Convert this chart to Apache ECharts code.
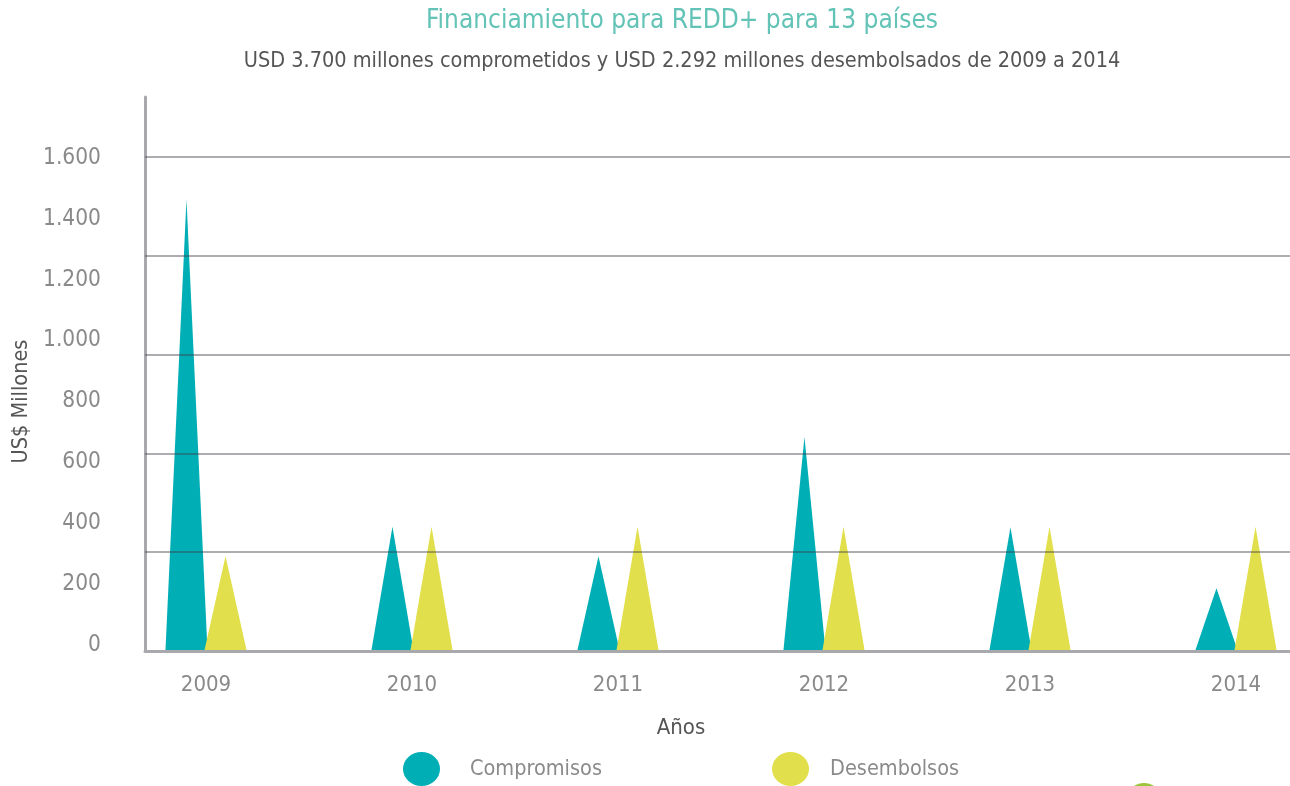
<!DOCTYPE html>
<html><head><meta charset="utf-8">
<script src="https://cdn.jsdelivr.net/npm/echarts@6/dist/echarts.min.js"></script>
<style>html,body{margin:0;padding:0;background:#fff}#c{width:1290px;height:786px}</style>
</head><body><div id="c"></div>
<script>
const years = ['2009', '2010', '2011', '2012', '2013', '2014'];
const compromisos = [1480, 405, 308, 700, 403, 203];
const desembolsos = [308, 405, 405, 405, 405, 405];
const yLabelMin = 0, yLabelMax = 1600, yLabelStep = 200;
const titleText = 'Financiamiento para REDD+ para 13 países';
const subtitleText = 'USD 3.700 millones comprometidos y USD 2.292 millones desembolsados de 2009 a 2014';

const FONT = "'DejaVu Sans Condensed','Liberation Sans Narrow',sans-serif";
const TEAL = '#00aeb6', YELLOW = '#e2df4c';
const AXIS = '#a9a9ad';
const ELLIPSE = 'path://M0,17 A18.5,17 0 1,0 37,17 A18.5,17 0 1,0 0,17 Z';

const chart = echarts.init(document.getElementById('c'), null, {renderer: 'canvas'});
const fmt = v => String(v).replace(/\B(?=(\d{3})+(?!\d))/g, '.');
const hidden = {show: false};
const GRIDC = 'rgba(60,60,70,0.42)';
const G = {outerBoundsMode: 'none', containLabel: false};

chart.setOption({
  animation: false,
  backgroundColor: '#fff',
  textStyle: {fontFamily: FONT},
  grid: [
    Object.assign({left: 103, width: 1236, top: 97, bottom: 136}, G),
    Object.assign({left: 145, right: 0, top: 97, bottom: 135}, G),
    Object.assign({left: 145, right: 0, top: 157, bottom: 135}, G),
    Object.assign({left: 145, right: 0, top: 158, bottom: 141}, G)
  ],
  xAxis: [
    {gridIndex: 0, type: 'category', data: years, axisLine: hidden, axisTick: hidden,
     splitLine: hidden,
     axisLabel: {margin: 24, fontSize: 22, color: '#8a8a8a', fontFamily: FONT}},
    {gridIndex: 1, type: 'value', min: 0, max: 1, axisLabel: hidden, axisTick: hidden, splitLine: hidden,
     axisLine: {show: true, lineStyle: {color: AXIS, width: 3}}},
    {gridIndex: 2, type: 'value', show: false},
    {gridIndex: 3, type: 'value', show: false}
  ],
  yAxis: [
    {gridIndex: 0, type: 'value', min: 0, max: 1817, show: false},
    {gridIndex: 1, type: 'value', min: 0, max: 1, axisLabel: hidden, axisTick: hidden, splitLine: hidden,
     axisLine: {show: true, lineStyle: {color: AXIS, width: 3}}},
    {gridIndex: 2, type: 'value', min: 0, max: 5, interval: 1, z: 10, axisLine: hidden, axisTick: hidden,
     axisLabel: hidden,
     splitLine: {show: true, lineStyle: {color: ['rgba(0,0,0,0)', GRIDC, GRIDC, GRIDC, GRIDC, GRIDC], width: 2}}},
    {gridIndex: 3, type: 'value', min: yLabelMin, max: yLabelMax, interval: yLabelStep,
     axisLine: hidden, axisTick: hidden, splitLine: hidden,
     axisLabel: {margin: 44, fontSize: 22.5, color: '#8a8a8a', fontFamily: FONT, formatter: fmt},
     name: 'US$ Millones', nameLocation: 'middle', nameGap: 112, nameRotate: 90,
     nameTextStyle: {fontSize: 21.5, color: '#555', fontFamily: FONT}}
  ],
  legend: [
    {data: ['Compromisos'], left: 403, top: 752, padding: 0, itemWidth: 37, itemHeight: 34, icon: ELLIPSE,
     selectedMode: false, textStyle: {fontSize: 21.5, color: '#8a8a8a', fontFamily: FONT, padding: [0, 0, 0, 25]}},
    {data: ['Desembolsos'], left: 772, top: 752, padding: 0, itemWidth: 37, itemHeight: 34, icon: ELLIPSE,
     selectedMode: false, textStyle: {fontSize: 21.5, color: '#8a8a8a', fontFamily: FONT, padding: [0, 0, 0, 16]}}
  ],
  series: [
    {name: 'Compromisos', type: 'pictorialBar', xAxisIndex: 0, yAxisIndex: 0, data: compromisos,
     symbol: 'triangle', symbolSize: ['100%', '100%'], barWidth: 42, barGap: '-7%',
     itemStyle: {color: TEAL}},
    {name: 'Desembolsos', type: 'pictorialBar', xAxisIndex: 0, yAxisIndex: 0, data: desembolsos,
     symbol: 'triangle', symbolSize: ['100%', '100%'], barWidth: 42, barGap: '-7%',
     itemStyle: {color: YELLOW}}
  ],
  graphic: [
    {type: 'text', x: 682, y: 21, style: {text: titleText, fill: '#62c3b6', font: '26px ' + FONT,
      align: 'center', verticalAlign: 'middle'}},
    {type: 'text', x: 682, y: 61, style: {text: subtitleText, fill: '#555', font: '21.5px ' + FONT,
      align: 'center', verticalAlign: 'middle'}},
    {type: 'text', x: 681, y: 728, style: {text: 'Años', fill: '#555', font: '22px ' + FONT,
      align: 'center', verticalAlign: 'middle'}},
    {type: 'ellipse', shape: {cx: 1144, cy: 801, rx: 18, ry: 18}, style: {fill: '#9dc43a'}}
  ]
});
</script></body></html>
